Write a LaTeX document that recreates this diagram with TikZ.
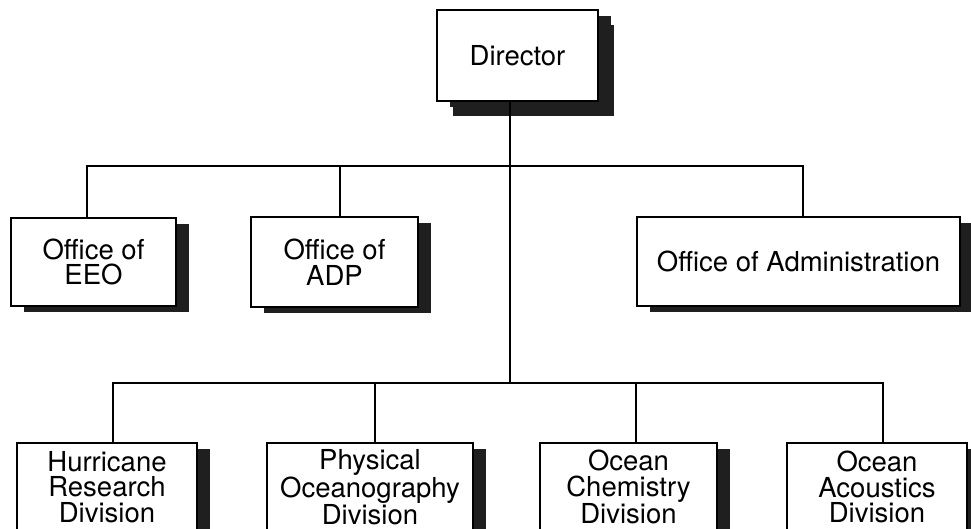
\documentclass[tikz,border=0pt]{standalone}
\usepackage{fontspec}
\setmainfont{TeX Gyre Heros}
\usetikzlibrary{shadows}
\begin{document}
\begin{tikzpicture}[x=1pt,y=-1pt,
  line width=1.8pt,
  orgbox/.style={draw, line width=2pt, fill=white, rectangle, inner sep=0pt,
    align=center, font=\fontsize{27.5}{25.5}\selectfont,
    drop shadow={shadow xshift=13pt, shadow yshift=-6pt, fill=black!88, opacity=1}},
  topbox/.style={orgbox,
    drop shadow={shadow xshift=16pt, shadow yshift=-15pt, fill=black!88, opacity=1}},
  conn/.style={draw, line width=1.8pt}]
\useasboundingbox (0,0) rectangle (971,529);
\node[topbox, minimum width=161pt, minimum height=91pt] (dir) at (517.5,55.5) {\raisebox{-4pt}{Director}};
\node[orgbox, minimum width=165pt, minimum height=88pt] (eeo) at (93.5,262) {Office of\\EEO};
\node[orgbox, minimum width=167pt, minimum height=90pt] (adp) at (334.5,262) {Office of\\ADP};
\node[orgbox, minimum width=323pt, minimum height=89pt] (adm) at (798.5,261.5) {Office of Administration};
\node[orgbox, minimum width=180pt, minimum height=88pt] (hur) at (107,487) {Hurricane\\Research\\Division};
\node[orgbox, minimum width=206pt, minimum height=88pt] (phy) at (370,487) {Physical\\Oceanography\\Division};
\node[orgbox, minimum width=177pt, minimum height=88pt] (che) at (628.5,487) {Ocean\\Chemistry\\Division};
\node[orgbox, minimum width=180pt, minimum height=88pt] (aco) at (877,487) {Ocean\\Acoustics\\Division};
\coordinate (bt) at (510,166);
\coordinate (bb) at (510,383);
\draw[conn] ([xshift=-7.5pt]dir.south) -- (bb);
\draw[conn] ([xshift=-6.5pt]eeo.north) |- (bt) -| ([xshift=4.5pt]adm.north);
\draw[conn] ([xshift=5.5pt]adp.north) -- ([xshift=5.5pt]adp.north |- bt);
\draw[conn] ([xshift=6pt]hur.north) |- (bb) -| ([xshift=6pt]aco.north);
\draw[conn] ([xshift=5pt]phy.north) -- ([xshift=5pt]phy.north |- bb);
\draw[conn] ([xshift=7.5pt]che.north) -- ([xshift=7.5pt]che.north |- bb);
\end{tikzpicture}
\end{document}
